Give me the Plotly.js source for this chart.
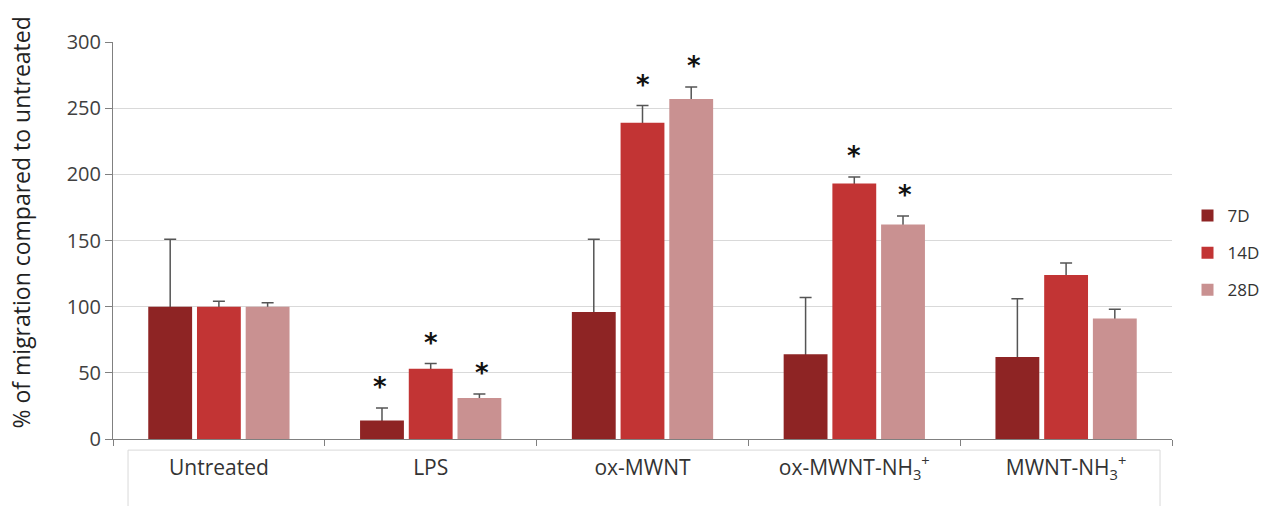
<!DOCTYPE html>
<html>
<head>
<meta charset="utf-8">
<script src="https://cdn.plot.ly/plotly-3.0.1.min.js"></script>
<style>html,body{margin:0;padding:0;background:#fff;}#chart{width:1266px;height:506px;}</style>
</head>
<body>
<div id="chart"></div>
<script>
const categories = ["Untreated", "LPS", "ox-MWNT", "ox-MWNT-NH<sub>3</sub><sup>+</sup>", "MWNT-NH<sub>3</sub><sup>+</sup>"];
const seriesNames = ["7D", "14D", "28D"];
const values7D  = [100, 14, 96, 64, 62];
const values14D = [100, 53, 239, 193, 124];
const values28D = [100, 31, 257, 162, 91];
const err7D  = [51, 9.5, 55, 43, 44];
const err14D = [4, 4, 13, 5, 9];
const err28D = [3, 3, 9, 6.5, 7];
const sig7D  = [false, true, false, false, false];
const sig14D = [false, true, true, true, false];
const sig28D = [false, true, true, true, false];
const yTicks = [0, 50, 100, 150, 200, 250, 300];
const yTitle = "% of migration compared to untreated";

const colors = ["#8e2424", "#c23434", "#c99191"];
const allVals = [values7D, values14D, values28D];
const allErr = [err7D, err14D, err28D];
const allSig = [sig7D, sig14D, sig28D];
const shifts = [-51, 0, 51];

// error bars first (transparent bars), solid bars drawn on top hide the lower half
const errTraces = seriesNames.map((name, i) => ({
  type: "bar",
  name: name + " err",
  x: categories,
  y: allVals[i],
  offsetgroup: name,
  showlegend: false,
  marker: {color: "rgba(0,0,0,0)", line: {width: 0}},
  error_y: {type: "data", array: allErr[i], arrayminus: allVals[i], symmetric: false,
            color: "#555555", thickness: 1.5, width: 6}
}));
const barTraces = seriesNames.map((name, i) => ({
  type: "bar",
  name: name,
  x: categories,
  y: allVals[i],
  offsetgroup: name,
  legendgroup: name,
  marker: {color: colors[i], line: {width: 0}}
}));

const annotations = [];
seriesNames.forEach((name, i) => {
  categories.forEach((c, j) => {
    if (allSig[i][j]) {
      annotations.push({
        x: c, y: allVals[i][j] + allErr[i][j], xref: "x", yref: "y",
        text: "<b>*</b>", showarrow: false, xshift: shifts[i], yshift: 21,
        yanchor: "middle", font: {family: "DejaVu Sans, sans-serif", size: 26, color: "#111"}
      });
    }
  });
});
annotations.push({
  text: yTitle, xref: "paper", yref: "paper", x: -0.087, y: 0.545, textangle: -90,
  showarrow: false, xanchor: "center", yanchor: "middle",
  font: {family: "'Open Sans', sans-serif", size: 23, color: "#222"}
});

const layout = {
  width: 1266, height: 506,
  margin: {l: 113, r: 94, t: 42, b: 67},
  paper_bgcolor: "#fff", plot_bgcolor: "#fff",
  barmode: "group", bargap: 0.31, bargroupgap: 0.1,
  font: {family: "'Open Sans', sans-serif", color: "#404040", size: 17},
  xaxis: {
    type: "category", showline: true, linecolor: "#808080", linewidth: 1,
    ticks: "outside", tickson: "boundaries", ticklen: 6, tickcolor: "#808080",
    showgrid: false, zeroline: false, ticklabelstandoff: 10,
    tickfont: {size: 21, color: "#333"}
  },
  yaxis: {
    range: [0, 300], tickvals: yTicks, showline: true, linecolor: "#808080", linewidth: 1,
    ticks: "outside", ticklen: 7, tickcolor: "#808080",
    gridcolor: "#d9d9d9", zeroline: false, tickfont: {size: 20, color: "#404040"}
  },
  legend: {xref: "container", yref: "container", x: 0.938, y: 0.5, xanchor: "left", yanchor: "middle",
           itemwidth: 30, tracegroupgap: 12, font: {size: 17, color: "#333"}, traceorder: "grouped"},
  shapes: [{type: "rect", xref: "paper", yref: "paper", x0: 0.0142, x1: 0.9887, y0: -0.028, y1: -0.3,
            line: {color: "#d9d9d9", width: 1}, fillcolor: "rgba(0,0,0,0)", layer: "below"}],
  annotations: annotations
};

Plotly.newPlot("chart", errTraces.concat(barTraces), layout, {displayModeBar: false, staticPlot: true});
</script>
</body>
</html>
